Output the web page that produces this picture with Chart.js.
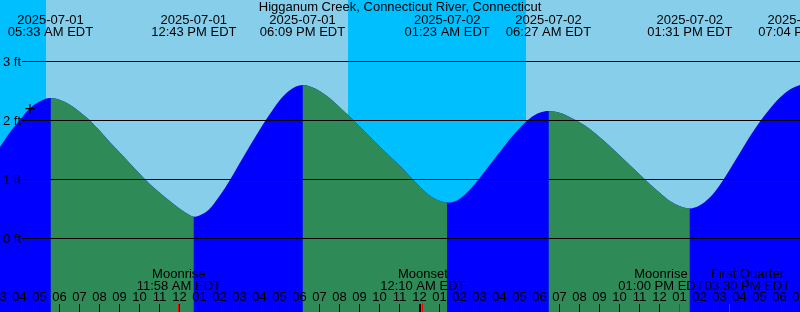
<!DOCTYPE html>
<html lang="en">
<head>
<meta charset="UTF-8">
<title>Higganum Creek tides</title>
<script src="https://cdn.jsdelivr.net/npm/chart.js"></script>
<style>
  html, body { margin: 0; padding: 0; background: #00bfff; }
  canvas { display: block; }
</style>
</head>
<body>
<canvas id="tideChart" width="800" height="312"></canvas>
<script>
// hours counted from 2025-07-01 00:00 EDT
const viewStart = 3.025;
const viewEnd = 43.025;

// tide curve (feet)
const tideHours = [3.025, 3.5, 4.0, 4.5, 5.0, 5.55, 6.0, 6.5, 7.0, 7.5, 8.0, 8.5, 9.0, 9.5, 10.0,
  10.5, 11.0, 11.5, 12.0, 12.5, 12.717, 13.0, 13.5, 14.0, 14.5, 15.0, 15.5, 16.0, 16.5, 17.0,
  17.5, 18.15, 18.5, 19.0, 19.5, 20.0, 20.5, 21.0, 21.5, 22.0, 22.5, 23.0, 23.5, 24.0, 24.5,
  25.0, 25.383, 25.5, 26.0, 26.5, 27.0, 27.5, 28.0, 28.5, 29.0, 29.5, 30.0, 30.45, 31.0, 31.5,
  32.0, 32.5, 33.0, 33.5, 34.0, 34.5, 35.0, 35.5, 36.0, 36.5, 37.0, 37.517, 38.0, 38.5, 39.0,
  39.5, 40.0, 40.5, 41.0, 41.5, 42.0, 42.5, 43.025];
const tideFeet = [1.55, 1.79, 2.00, 2.20, 2.32, 2.38, 2.35, 2.27, 2.15, 2.01, 1.83, 1.64, 1.46, 1.28, 1.10,
  0.93, 0.78, 0.64, 0.51, 0.40, 0.37, 0.39, 0.50, 0.72, 0.98, 1.27, 1.56, 1.84, 2.10, 2.34,
  2.51, 2.60, 2.58, 2.50, 2.38, 2.23, 2.07, 1.90, 1.73, 1.56, 1.40, 1.24, 1.06, 0.88, 0.73,
  0.64, 0.61, 0.61, 0.67, 0.82, 1.02, 1.24, 1.46, 1.68, 1.87, 2.03, 2.13, 2.16, 2.13, 2.06,
  1.97, 1.86, 1.72, 1.57, 1.41, 1.25, 1.09, 0.93, 0.78, 0.64, 0.55, 0.51, 0.56, 0.69, 0.90,
  1.16, 1.44, 1.72, 1.97, 2.19, 2.38, 2.52, 2.60];

// highs and lows
const extremeHours = [5.55, 12.717, 18.15, 25.383, 30.45, 37.517, 43.067];
const extremeDates = ['2025-07-01', '2025-07-01', '2025-07-01', '2025-07-02', '2025-07-02', '2025-07-02', '2025-07-02'];
const extremeTimes = ['05:33 AM EDT', '12:43 PM EDT', '06:09 PM EDT', '01:23 AM EDT', '06:27 AM EDT', '01:31 PM EDT', '07:04 PM EDT'];

const sunriseHours = [5.325, 29.325];
const sunsetHours = [20.44, 44.4];

const moonHours = [11.967, 24.167, 37.0, 39.5];
const moonEvents = ['Moonrise', 'Moonset', 'Moonrise', 'First Quarter'];
const moonTimes = ['11:58 AM EDT', '12:10 AM EDT', '01:00 PM EDT', '03:30 PM EDT'];
const moonShift = [0, 0, -18.5, 18];

const depthTicks = [0, 1, 2, 3];
const nowMark = [{ x: 4.525, y: 2.20 }];

const titleText = 'Higganum Creek, Connecticut River, Connecticut';
const FONT = '13px "Liberation Sans", Arial, sans-serif';

const tidePoints = tideHours.map((h, i) => ({ x: h, y: tideFeet[i] }));

const datasets = [
    {
        // the ebb parts, green, on top of the flood fill
        type: 'line',
        data: tidePoints,
        order: 1,
        fill: 'start',
        backgroundColor: 'rgba(0,0,0,0)',
        segment: {
            backgroundColor: c => c.p1.parsed.y < c.p0.parsed.y ? '#2e8b57' : 'rgba(0,0,0,0)'
        },
        borderColor: 'transparent',
        borderWidth: 0,
        pointRadius: 0,
        cubicInterpolationMode: 'monotone'
    },
    {
        // whole curve in flood blue underneath
        type: 'line',
        data: tidePoints,
        order: 2,
        fill: 'start',
        backgroundColor: '#0000ff',
        borderColor: 'transparent',
        borderWidth: 0,
        pointRadius: 0,
        cubicInterpolationMode: 'monotone'
    },
    {
        type: 'scatter',
        data: nowMark,
        order: 0,
        pointStyle: 'cross',
        pointRadius: 4.5,
        borderColor: '#000',
        borderWidth: 1.3
    }
];

function crisp(v) { return Math.round(v - 0.5) + 0.5; }
function hourLabel(h) {
    const v = ((h % 12) + 12) % 12 || 12;
    return String(v).padStart(2, '0');
}

const tideDecor = {
    id: 'tideDecor',
    beforeDatasetsDraw(chart) {
        const { ctx, chartArea: a, scales: { x } } = chart;
        ctx.save();
        ctx.fillStyle = '#00bfff';
        ctx.fillRect(a.left, a.top, a.width, a.height);
        ctx.fillStyle = '#87ceeb';
        sunriseHours.forEach((rise, i) => {
            const x0 = Math.round(x.getPixelForValue(rise));
            const x1 = Math.round(x.getPixelForValue(sunsetHours[i]));
            ctx.fillRect(x0, a.top, x1 - x0, a.height);
        });
        ctx.restore();
    },
    afterDatasetsDraw(chart) {
        const { ctx, chartArea: a, scales: { x, y } } = chart;
        ctx.save();
        ctx.font = FONT;
        ctx.fillStyle = '#000';
        ctx.strokeStyle = '#000';

        // depth lines and labels
        ctx.lineWidth = 1;
        depthTicks.forEach(d => {
            const py = crisp(y.getPixelForValue(d));
            ctx.beginPath();
            ctx.moveTo(22, py);
            ctx.lineTo(a.right, py);
            ctx.stroke();
            ctx.textAlign = 'left';
            ctx.fillText(d + ' ft', 3, py + 4.6);
        });

        // title and high / low labels
        ctx.textAlign = 'center';
        ctx.fillText(titleText, (a.left + a.right) / 2, 11);
        extremeHours.forEach((h, i) => {
            const px = x.getPixelForValue(h);
            ctx.fillText(extremeDates[i], px, 24);
            ctx.fillText(extremeTimes[i], px, 36);
        });

        // hour ticks along the bottom
        for (let h = Math.floor(viewStart); h <= Math.ceil(viewEnd); h++) {
            const px = x.getPixelForValue(h);
            ctx.fillText(hourLabel(h), px, 301);
            ctx.beginPath();
            if (h % 24 === 0) {
                ctx.lineWidth = 2;
                ctx.moveTo(Math.round(px), 304);
                ctx.lineTo(Math.round(px), 312);
            } else {
                ctx.lineWidth = 1;
                ctx.moveTo(crisp(px), 304);
                ctx.lineTo(crisp(px), 312);
            }
            ctx.stroke();
        }

        // moon events
        ctx.lineWidth = 1;
        moonHours.forEach((h, i) => {
            const px = x.getPixelForValue(h);
            ctx.fillStyle = '#000';
            ctx.fillText(moonEvents[i], px + moonShift[i], 278);
            ctx.fillText(moonTimes[i], px + moonShift[i], 289.5);
            ctx.strokeStyle = '#ff0000';
            ctx.beginPath();
            ctx.moveTo(crisp(px), 304);
            ctx.lineTo(crisp(px), 312);
            ctx.stroke();
        });
        ctx.restore();
    }
};

new Chart(document.getElementById('tideChart').getContext('2d'), {
    data: { datasets: datasets },
    options: {
        responsive: false,
        devicePixelRatio: 1,
        animation: false,
        layout: { padding: 0, autoPadding: false },
        plugins: { legend: { display: false }, tooltip: { enabled: false } },
        scales: {
            x: { type: 'linear', min: viewStart, max: viewEnd, display: false },
            y: { type: 'linear', min: -1.2458, max: 4.0424, display: false }
        }
    },
    plugins: [tideDecor]
});
</script>
</body>
</html>
